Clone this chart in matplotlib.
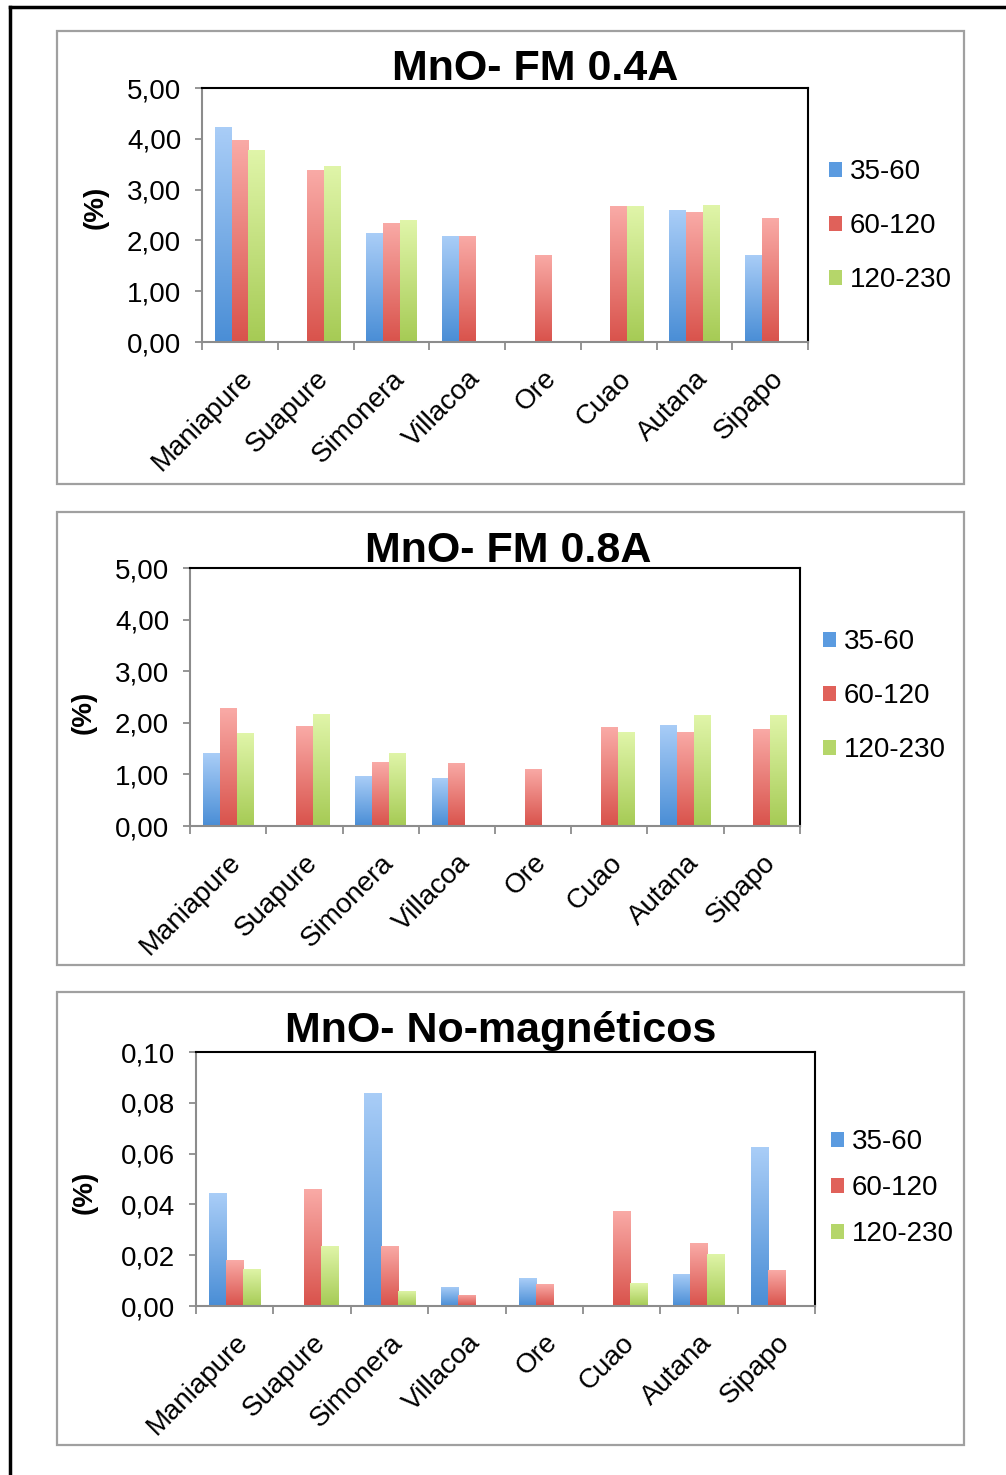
import numpy as np
import matplotlib.pyplot as plt
from matplotlib.patches import Rectangle
from matplotlib.lines import Line2D
from matplotlib.colors import to_rgb

plt.rcParams['font.family'] = ['Liberation Sans', 'DejaVu Sans']

W, H = 1006, 1475
nan = np.nan

# Data
sitios = ["Maniapure", "Suapure", "Simonera", "Villacoa", "Ore", "Cuao", "Autana", "Sipapo"]
fracciones = ["35-60", "60-120", "120-230"]

fm04_35_60 = [4.23, nan, 2.14, 2.09, nan, nan, 2.60, 1.72]
fm04_60_120 = [3.98, 3.38, 2.35, 2.09, 1.72, 2.67, 2.55, 2.45]
fm04_120_230 = [3.78, 3.47, 2.40, nan, nan, 2.67, 2.70, nan]

fm08_35_60 = [1.41, nan, 0.96, 0.93, nan, nan, 1.96, nan]
fm08_60_120 = [2.28, 1.93, 1.24, 1.23, 1.11, 1.91, 1.83, 1.88]
fm08_120_230 = [1.80, 2.17, 1.42, nan, nan, 1.82, 2.15, 2.15]

nomag_35_60 = [0.0444, nan, 0.0840, 0.0075, 0.0110, nan, 0.0126, 0.0625]
nomag_60_120 = [0.0181, 0.0459, 0.0237, 0.0045, 0.0085, 0.0373, 0.0248, 0.0141]
nomag_120_230 = [0.0146, 0.0237, 0.0060, nan, nan, 0.0089, 0.0206, nan]

titulos = ["MnO- FM 0.4A", "MnO- FM 0.8A", "MnO- No-magnéticos"]
ymax = [5.0, 5.0, 0.10]
ystep = [1.0, 1.0, 0.02]

# (top colour, bottom colour) of the gradient fill
grad = [("#a9cdf7", "#4a8ed6"), ("#f9aaa6", "#d9534c"), ("#e0f5a9", "#a6cb55")]
solid = ["#5b9be0", "#e0615a", "#b5d66a"]

# pixel layout: axes (l, t, r, b), panel box, title (x, baseline), ylabel (x, y), legend (x, y, spacing)
paneles = [
    dict(ax=(202, 88, 808, 342), box=(57, 31, 964, 484), title=(535, 80),
         ylab=(96, 207), leg=(829, 226, 1.01)),
    dict(ax=(190, 568, 800, 826), box=(57, 512, 964, 965), title=(508, 562),
         ylab=(84, 712), leg=(823, 696, 1.01)),
    dict(ax=(196, 1052, 815, 1306), box=(57, 992, 964, 1445), title=(501, 1042),
         ylab=(85, 1192), leg=(831, 1188, 0.72)),
]
series = [
    [fm04_35_60, fm04_60_120, fm04_120_230],
    [fm08_35_60, fm08_60_120, fm08_120_230],
    [nomag_35_60, nomag_60_120, nomag_120_230],
]


def gradient_fill(ax, bar, top, bottom):
    x, w, h = bar.get_x(), bar.get_width(), bar.get_height()
    if not np.isfinite(h) or h <= 0:
        return
    t = np.linspace(0, 1, 64)[:, None]
    c0, c1 = np.array(to_rgb(bottom)), np.array(to_rgb(top))
    img = (c0 + (c1 - c0) * t)[:, None, :].repeat(2, axis=1)
    im = ax.imshow(img, extent=[x, x + w, 0, h], origin='lower', aspect='auto',
                   interpolation='bilinear', zorder=2)
    im.set_clip_path(bar)


fig = plt.figure(figsize=(W / 100, H / 100), dpi=100)

# outer black frame (left and top edges visible)
fig.add_artist(Line2D([10 / W, 10 / W], [0, 1 - 7 / H], color='black', lw=2.5,
                      transform=fig.transFigure))
fig.add_artist(Line2D([10 / W, 1], [1 - 7 / H, 1 - 7 / H], color='black', lw=2.5,
                      transform=fig.transFigure))

x = np.arange(len(sitios))
bw = 0.22
fs = 20

for p, datos, tit, ym, ys in zip(paneles, series, titulos, ymax, ystep):
    bl, bt, br, bb = p['box']
    fig.add_artist(Rectangle((bl / W, 1 - bb / H), (br - bl) / W, (bb - bt) / H,
                             transform=fig.transFigure, fill=False,
                             edgecolor='#a0a0a0', lw=1.6))

    l, t, r, b = p['ax']
    ax = fig.add_axes([l / W, 1 - b / H, (r - l) / W, (b - t) / H])
    for i, vals in enumerate(datos):
        bars = ax.bar(x + (i - 1) * bw + 0.5, vals, bw, color=solid[i], zorder=1)
        for bar in bars:
            gradient_fill(ax, bar, *grad[i])

    ax.set_xlim(0, len(sitios))
    ax.set_ylim(0, ym)
    ax.set_yticks(np.arange(0, ym + ys / 2, ys))
    ax.set_yticklabels([f"{v:.2f}".replace('.', ',') for v in np.arange(0, ym + ys / 2, ys)],
                       fontsize=fs)
    ax.set_xticks(np.arange(len(sitios) + 1))
    ax.set_xticklabels([])
    ax.set_xticks(x + 0.5, minor=True)
    ax.set_xticklabels(sitios, minor=True, rotation=45, ha='right', va='top',
                       rotation_mode='anchor', fontsize=fs)
    ax.tick_params(axis='x', which='minor', length=0, pad=17)
    ax.tick_params(axis='x', which='major', length=6, color='#8c8c8c', width=1.3)
    ax.tick_params(axis='y', length=5, color='#8c8c8c', width=1.3, pad=10)

    for s in ['left', 'bottom']:
        ax.spines[s].set_color('#8c8c8c')
        ax.spines[s].set_linewidth(1.5)
    for s in ['top', 'right']:
        ax.spines[s].set_color('black')
        ax.spines[s].set_linewidth(1.5)

    tx, ty = p['title']
    fig.text(tx / W, 1 - ty / H, tit, ha='center', va='baseline',
             fontsize=31, fontweight='bold')

    lx, ly = p['ylab']
    fig.text(lx / W, 1 - ly / H, "(%)", ha='center', va='center', rotation=90,
             fontsize=fs, fontweight='bold')

    gx, gy, sp = p['leg']
    handles = [Rectangle((0, 0), 1, 1, facecolor=c) for c in solid]
    fig.legend(handles, fracciones, loc='center left',
               bbox_to_anchor=(gx / W, 1 - gy / H), frameon=False, fontsize=fs,
               handlelength=0.45, handleheight=0.45, handletextpad=0.3,
               borderpad=0, borderaxespad=0, labelspacing=sp)

fig.savefig("out.png", dpi=100)
